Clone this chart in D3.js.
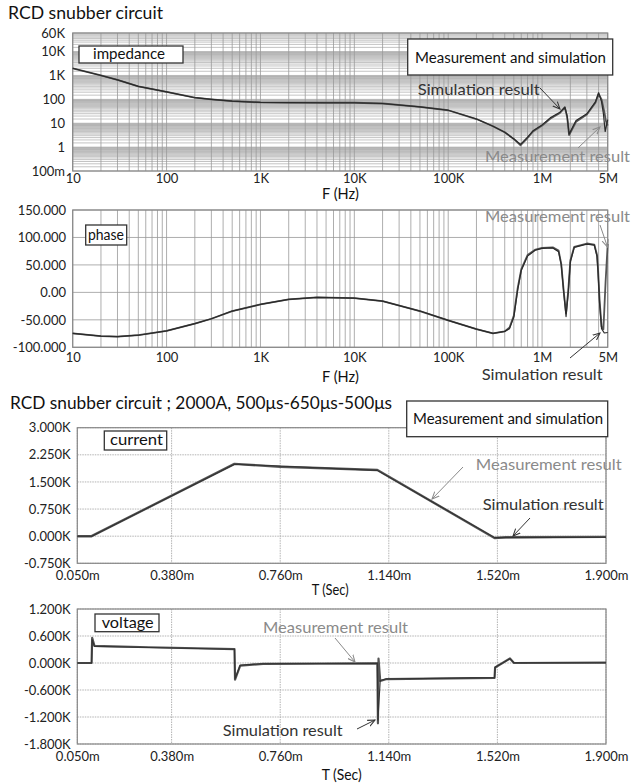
<!DOCTYPE html>
<html><head><meta charset="utf-8">
<script src="https://cdn.jsdelivr.net/npm/d3@7"></script>
<style>body{margin:0;background:#fff}svg{display:block}</style>
</head><body>
<svg id="c" width="632" height="784"></svg>
<script>
// ---------- DATA ----------
const impFreq = [10,20,30,50,100,200,300,500,1000,2000,5000,10000,20000,50000,100000,200000,300000,400000,500000,590000,700000,800000,1000000,1220000,1550000,1750000,1850000,1940000,2300000,3000000,3700000,4000000,4300000,4500000,4700000,5000000];
const impSim  = [2000,1000,650,350,205,117,100,85,74,73,72,72,67,48,35,15,7.5,4.2,2.2,1.3,2.6,4.8,8.5,16.8,29,48,20,3.5,12.9,25,78,190,80,25,4.5,14];
const impMeasFreq = [10,20,30,50,100,200,300,500,1000,2000,5000,10000,20000,50000,100000,200000,300000,400000,500000,590000,700000,800000,1000000,1220000,1550000,1750000,1850000,1940000,2300000,3000000,3700000,4000000,4300000,4600000,4800000,5000000];
const impMeas = [2000,1000,650,350,205,117,100,85,74,73,72,72,67,48,35,15,7.5,4.2,2.2,1.2,2.4,4.5,8,15.5,27,45,18,3.2,11.5,23,72,170,100,30,12,8];
const impYTicks = [0.1,1,10,100,1000,10000,60000];
const impYLabels = ["100m","1","10","100","1K","10K","60K"];
const freqTicks = [10,100,1000,10000,100000,1000000,5000000];
const freqLabels = ["10","100","1K","10K","100K","1M","5M"];

const phFreq = [10,20,30,50,100,200,300,500,1000,2000,4000,10000,20000,50000,100000,200000,300000,400000,450000,500000,550000,600000,700000,850000,1000000,1300000,1500000,1600000,1700000,1800000,1900000,2000000,2200000,3000000,3600000,3850000,3950000,4100000,4300000,4600000,5000000];
const phSim  = [-74.5,-79.5,-80.5,-78,-70,-57,-48,-34,-22,-12.7,-9,-10.4,-15.8,-34,-51,-67,-74.5,-71,-66,-45,5,40,66,77,80,81,74,50,0,-44,0,55,82,88,86,65,35,-20,-66,-74,-73];
const phMeasFreq = [10,20,30,50,100,200,300,500,1000,2000,4000,10000,20000,50000,100000,200000,300000,400000,450000,500000,550000,600000,700000,850000,1000000,1300000,1500000,1600000,1700000,1800000,1900000,2000000,2200000,3000000,3600000,3850000,3950000,4100000,4300000,4500000,4750000,5000000];
const phMeas = [-74.5,-79.5,-80.5,-78,-70,-57,-48,-34,-22,-12.7,-9,-10.4,-15.8,-34,-51,-67,-74.5,-71,-64,-42,8,42,68,78,81,82,76,52,2,-38,3,58,83,89,87,68,40,-15,-62,-67,20,88];
const phTicks = [-100,-50,0,50,100,150];
const phLabels = ["-100.000","-50.000","0.00","50.000","100.000","150.000"];

const timeTicks = [0.05,0.38,0.76,1.14,1.52,1.9];
const timeLabels = ["0.050m","0.380m","0.760m","1.140m","1.520m","1.900m"];

const curTimeMeas = [0.05,0.1,0.6,0.76,1.1,1.51,1.55,1.9];
const curMeas = [0,0,2000,1920,1830,-50,-30,-20];
const curTimeSim = [0.05,0.1,0.6,1.1,1.51,1.9];
const curSim = [0,0,1990,1820,-40,-30];
const curTicks = [-750,0,750,1500,2250,3000];
const curLabels = ["-0.750K","0.000K","0.750K","1.500K","2.250K","3.000K"];

const volTimeMeas = [0.05,0.1,0.102,0.11,0.3,0.6,0.602,0.62,0.7,1.1,1.102,1.104,1.11,1.13,1.51,1.512,1.564,1.578,1.9];
const volMeas = [0,0,560,380,350,310,-370,-60,-20,-10,-1340,100,-400,-360,-330,-100,100,0,10];
const volTimeSim = [0.05,0.1,0.102,0.11,0.3,0.6,0.602,0.62,0.7,1.1,1.102,1.11,1.13,1.51,1.512,1.564,1.578,1.9];
const volSim = [0,0,520,370,345,305,-350,-50,-15,-5,-1270,-390,-355,-325,-95,95,5,5];
const volTicks = [-1800,-1200,-600,0,600,1200];
const volLabels = ["-1.800K","-1.200K","-0.600K","0.000K","0.600K","1.200K"];

// ---------- DRAW ----------
const FONT = "Lato, 'Open Sans', sans-serif";
const svg = d3.select("#c").style("font-family", FONT);
svg.append("defs").append("marker").attr("id","arr").attr("viewBox","0 0 10 10")
  .attr("refX",9).attr("refY",5).attr("markerWidth",8).attr("markerHeight",8).attr("orient","auto")
  .append("path").attr("d","M0,1 L9,5 L0,9").attr("fill","none").attr("stroke","context-stroke").attr("stroke-width",1.3);

function minorLog(lo, hi, step) {
  const out = [];
  for (let e = Math.floor(Math.log10(lo)); e <= Math.ceil(Math.log10(hi)); e++) {
    for (let k = 1; k < 10; k += step) {
      const v = k * Math.pow(10, e);
      if (v >= lo * 0.9999 && v <= hi * 1.0001) out.push(v);
    }
  }
  return out;
}

function panel(o) {
  const g = svg.append("g");
  const x = o.x, y = o.y;
  const [x0,x1] = x.range(), [y1,y0] = y.range();
  g.append("g").selectAll("line").data(o.vgrid).join("line")
    .attr("x1", d=>x(d)).attr("x2", d=>x(d)).attr("y1", y0).attr("y2", y1)
    .attr("stroke", o.gridColor).attr("stroke-width", o.gridW).attr("stroke-dasharray", o.dash || null);
  g.append("g").selectAll("line").data(o.hgrid).join("line")
    .attr("x1", x0).attr("x2", x1).attr("y1", d=>y(d)).attr("y2", d=>y(d))
    .attr("stroke", o.gridColor).attr("stroke-width", o.hgridW || o.gridW).attr("stroke-dasharray", o.dash || null);
  g.append("rect").attr("x", x0).attr("y", y0).attr("width", x1-x0).attr("height", y1-y0)
    .attr("fill","none").attr("stroke","#888").attr("stroke-width",1.2);
  const ax = g.append("g").attr("transform", `translate(0,${o.xLabY})`)
    .call(d3.axisBottom(x).tickValues(o.xTicks).tickFormat((d,i)=>o.xLabels[i]).tickSize(0).tickPadding(0));
  ax.select(".domain").remove();
  ax.selectAll("text").attr("dy",0).attr("font-size",13).attr("font-family",FONT).attr("fill","#222");
  const ay = g.append("g").attr("transform", `translate(${o.yLabX},0)`)
    .call(d3.axisLeft(y).tickValues(o.yTicks).tickFormat((d,i)=>o.yLabels[i]).tickSize(0).tickPadding(0));
  ay.select(".domain").remove();
  ay.selectAll("text").attr("font-size",13).attr("font-family",FONT).attr("fill","#222");
  const line = d3.line().x(d=>x(d[0])).y(d=>y(d[1]));
  o.series.forEach(s => {
    g.append("path").datum(d3.zip(s.x, s.y)).attr("d", line)
      .attr("fill","none").attr("stroke", s.color).attr("stroke-width", s.w).attr("stroke-linejoin","round");
  });
  return g;
}

function box(x, y, w, h, text, tx, ty, size, tl) {
  svg.append("rect").attr("x",x).attr("y",y).attr("width",w).attr("height",h)
    .attr("fill","#fff").attr("stroke","#333").attr("stroke-width",1.3);
  svg.append("text").attr("x",tx).attr("y",ty).attr("font-size",size).attr("fill","#111")
    .attr("textLength", tl).attr("lengthAdjust","spacingAndGlyphs").text(text);
}
function label(x, y, text, color, size, tl, anchor) {
  const t = svg.append("text").attr("x",x).attr("y",y).attr("font-size",size).attr("fill",color)
    .attr("text-anchor",anchor||"start").text(text);
  if (tl) t.attr("textLength", tl).attr("lengthAdjust","spacingAndGlyphs");
}
function arrow(x1,y1,x2,y2,color) {
  svg.append("line").attr("x1",x1).attr("y1",y1).attr("x2",x2).attr("y2",y2)
    .attr("stroke",color).attr("stroke-width",1).attr("marker-end","url(#arr)");
}

const SIMC = "#333", MEASC = "#8a8a8a";

// Titles
label(8, 19, "RCD snubber circuit", "#111", 17, 155);
label(10, 408.5, "RCD snubber circuit ; 2000A, 500\u03bcs-650\u03bcs-500\u03bcs", "#111", 17, 382);

// Impedance
const xF1 = d3.scaleLog().domain([10, 5e6]).range([72.7, 607.7]);
const yImp = d3.scaleLog().domain([0.1, 60000]).range([171, 33]);
panel({x:xF1, y:yImp, vgrid:minorLog(10,5e6,1), hgrid:minorLog(0.1,60000,0.5),
  gridColor:"#9a9a9a", gridW:0.8, hgridW:0.6,
  xTicks:freqTicks, xLabels:freqLabels, xLabY:183, yTicks:impYTicks, yLabels:impYLabels, yLabX:65,
  series:[{x:impMeasFreq, y:impMeas, color:"#555", w:1.8},{x:impFreq, y:impSim, color:"#2a2a2a", w:1.2}]});
label(340.5, 199, "F (Hz)", "#111", 15, 37, "middle");
box(79, 46, 104, 17, "impedance", 93, 59, 16, 72);
box(407.7, 39, 205, 36, "Measurement and simulation", 415, 62.5, 15.5, 191);
label(417.7, 95, "Simulation result", SIMC, 16, 122);
arrow(540, 88, 560, 109, SIMC);
label(485, 162, "Measurement result", MEASC, 16, 145);
arrow(578, 148, 600, 127, MEASC);

// Phase
const xF2 = d3.scaleLog().domain([10, 5e6]).range([72.7, 607.7]);
const yPh = d3.scaleLinear().domain([-100, 150]).range([347.3, 210]);
panel({x:xF2, y:yPh, vgrid:minorLog(10,5e6,1), hgrid:phTicks,
  gridColor:"#999", gridW:0.8,
  xTicks:freqTicks, xLabels:freqLabels, xLabY:362, yTicks:phTicks, yLabels:phLabels, yLabX:66,
  series:[{x:phMeasFreq, y:phMeas, color:"#555", w:1.8},{x:phFreq, y:phSim, color:"#2a2a2a", w:1.2}]});
label(340.5, 382, "F (Hz)", "#111", 15, 37, "middle");
box(85.7, 225, 41, 20, "phase", 88, 240, 14.5, 36);
label(485, 222, "Measurement result", MEASC, 16, 145);
arrow(600, 225, 607.5, 247, MEASC);
label(481.7, 380, "Simulation result", SIMC, 16, 121);
arrow(570, 358, 600, 333, SIMC);

// Current
const xT1 = d3.scaleLinear().domain([0.05, 1.9]).range([77.3, 606]);
const yCur = d3.scaleLinear().domain([-750, 3000]).range([563.3, 427.7]);
panel({x:xT1, y:yCur, vgrid:timeTicks, hgrid:curTicks,
  gridColor:"#aaa", gridW:0.9, dash:"1.5,1",
  xTicks:timeTicks, xLabels:timeLabels, xLabY:580, yTicks:curTicks, yLabels:curLabels, yLabX:70.7,
  series:[{x:curTimeMeas, y:curMeas, color:"#555", w:2.4},{x:curTimeSim, y:curSim, color:"#333", w:1.1}]});
label(311.7, 595, "T (Sec)", "#111", 15, 37);
box(406.7, 401, 201, 35.7, "Measurement and simulation", 413, 424.3, 15.5, 190);
box(104.3, 431, 62.4, 19, "current", 110, 444.5, 16, 53);
label(475.7, 470, "Measurement result", MEASC, 16, 146);
arrow(463, 467, 432, 499, MEASC);
label(482.7, 510, "Simulation result", SIMC, 16, 121);
arrow(530, 518, 513, 536, SIMC);

// Voltage
const xT2 = d3.scaleLinear().domain([0.05, 1.9]).range([77.3, 606]);
const yVol = d3.scaleLinear().domain([-1800, 1200]).range([744, 609]);
panel({x:xT2, y:yVol, vgrid:timeTicks, hgrid:volTicks,
  gridColor:"#aaa", gridW:0.9, dash:"1.5,1",
  xTicks:timeTicks, xLabels:timeLabels, xLabY:761, yTicks:volTicks, yLabels:volLabels, yLabX:70.7,
  series:[{x:volTimeMeas, y:volMeas, color:"#555", w:2.2},{x:volTimeSim, y:volSim, color:"#333", w:1.1}]});
label(321.7, 780, "T (Sec)", "#111", 15, 40);
box(95, 614, 64, 17.7, "voltage", 101.7, 627.5, 16, 52);
label(263, 633, "Measurement result", MEASC, 16, 145);
arrow(335, 638, 355, 662, MEASC);
label(222.7, 736, "Simulation result", SIMC, 16, 120);
arrow(357, 729, 375, 720, SIMC);
</script>
</body></html>
